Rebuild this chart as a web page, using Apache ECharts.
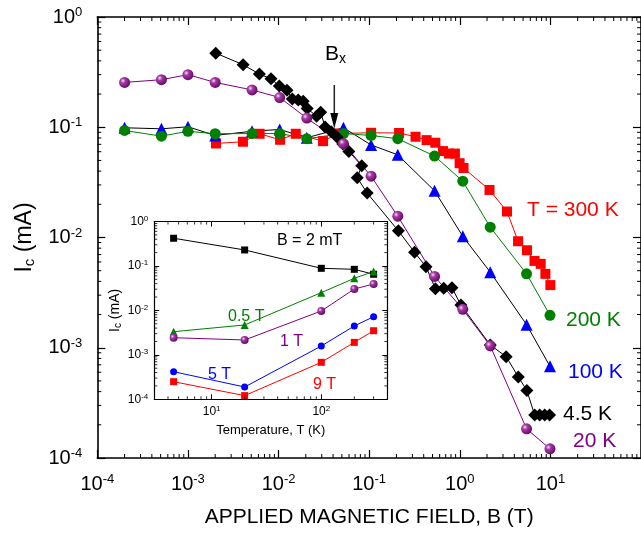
<!DOCTYPE html>
<html><head><meta charset="utf-8">
<script src="https://cdn.jsdelivr.net/npm/echarts@6/dist/echarts.min.js"></script>
<style>html,body{margin:0;padding:0;background:#fff}#c{width:641px;height:533px}</style>
</head><body><div id="c"></div>
<script>
// ---------- main plot data: B (T) vs Ic (mA) ----------
const B_std = [2e-4, 5.1e-4, 1e-3, 2e-3, 5.1e-3, 0.0103, 0.0205, 0.052, 0.105, 0.207, 0.527, 1.08, 2.17, 5.46, 9.9];
const I_20K  = [0.255, 0.27, 0.30, 0.255, 0.218, 0.186, 0.121, 0.071, 0.036, 0.0156, 0.00444, 0.00223, 0.00104, 1.84e-4, 1.21e-4];
const I_200K = [0.0935, 0.083, 0.092, 0.0873, 0.0877, 0.0877, 0.0787, 0.0877, 0.0843, 0.0787, 0.0548, 0.0324, 0.0124, 0.00468, 0.00197];
const I_100K = [0.0989, 0.0968, 0.101, 0.0843, 0.092, 0.0955, 0.0803, 0.0989, 0.0691, 0.0562, 0.0265, 0.01025, 0.00485, 0.00162, 6.78e-4];
const B_300K = [2.04e-3, 4.05e-3, 6.18e-3, 0.0104, 0.0155, 0.031, 0.0452, 0.105, 0.214, 0.325, 0.431, 0.538, 0.653, 0.76, 0.884, 0.996, 1.10, 2.13, 3.32, 4.40, 5.52, 6.68, 7.82, 8.81, 10.0];
const I_300K = [0.0713, 0.0739, 0.0873, 0.077, 0.0873, 0.0748, 0.0878, 0.0891, 0.0887, 0.082, 0.0764, 0.0724, 0.0608, 0.0577, 0.0577, 0.0472, 0.0427, 0.027, 0.0172, 0.00925, 0.00766, 0.00613, 0.00577, 0.00468, 0.0037];
const B_4K5 = [2.03e-3, 4.07e-3, 6.15e-3, 8.26e-3, 0.0102, 0.0124, 0.0142, 0.0165, 0.0187, 0.0207, 0.0263, 0.0292, 0.0326, 0.0382, 0.0441, 0.0513, 0.0597, 0.0828, 0.0739, 0.0951, 0.21, 0.317, 0.424, 0.538, 0.665, 0.82, 1.03, 2.17, 3.25, 4.43, 5.5, 6.71, 7.62, 8.65, 9.8];
const I_4K5 = [0.47, 0.369, 0.304, 0.275, 0.237, 0.217, 0.18, 0.177, 0.172, 0.148, 0.126, 0.137, 0.1005, 0.0912, 0.0817, 0.0706, 0.0604, 0.0447, 0.0348, 0.0253, 0.0115, 0.00734, 0.00543, 0.00343, 0.00346, 0.0035, 0.00244, 0.00106, 8.3e-4, 5.44e-4, 4.09e-4, 2.46e-4, 2.46e-4, 2.46e-4, 2.46e-4];

// ---------- inset data: T (K) vs Ic (mA) ----------
const T_inset = [4.5, 20, 100, 200, 300];
const I_2mT  = [0.42, 0.229, 0.0885, 0.084, 0.065];
const I_0p5T = [0.00332, 0.0047, 0.0251, 0.0527, 0.075];
const I_1T   = [0.00243, 0.00216, 0.00969, 0.0303, 0.0393];
const I_5T   = [4.18e-4, 1.89e-4, 1.58e-3, 4.46e-3, 7.22e-3];
const I_9T   = [2.49e-4, 1.21e-4, 6.79e-4, 1.91e-3, 3.49e-3];

// axis ranges (decades)
const mainX = [-4, 2], mainY = [-4, 0];
const insX = [Math.log10(3), Math.log10(400)], insY = [-4, 0];

const FONT = '"Liberation Sans", Arial, sans-serif';
const lg = Math.log10;
const pts = (xs, ys) => xs.map((x, i) => [lg(x), lg(ys[i])]);

function supLabel(size, sup, margin) {
  return {
    margin: margin,
    formatter: v => '{b|10}{s|' + Math.round(v) + '}',
    rich: {
      b: { fontSize: size, fontFamily: FONT, color: '#000', lineHeight: size + 2 },
      s: { fontSize: sup, fontFamily: FONT, color: '#000', verticalAlign: 'top', lineHeight: sup }
    }
  };
}

function minorVals(n0, n1) {
  const out = [];
  for (let n = n0; n < n1; n++) for (let k = 2; k <= 9; k++) out.push(lg(k) + n);
  return out;
}

function minorSeries(xi, yi, xr, yr, xv, yv, len, w) {
  const data = xv.map(v => [v, yr[0], 0]).concat(yv.map(v => [xr[0], v, 1]));
  const ln = (x1, y1, x2, y2) => ({ type: 'line', shape: { x1, y1, x2, y2 }, style: { stroke: '#000', lineWidth: w } });
  return {
    type: 'custom', xAxisIndex: xi, yAxisIndex: yi, silent: true, clip: false, z: 5,
    encode: { x: 0, y: 1 }, data: data,
    renderItem: (p, api) => {
      const k = api.value(2);
      if (k === 0) {
        const v = api.value(0);
        const a = api.coord([v, yr[0]]), b = api.coord([v, yr[1]]);
        return { type: 'group', children: [ln(a[0], a[1], a[0], a[1] - len), ln(b[0], b[1], b[0], b[1] + len)] };
      } else {
        const v = api.value(1);
        const a = api.coord([xr[0], v]), b = api.coord([xr[1], v]);
        return { type: 'group', children: [ln(a[0], a[1], a[0] + len, a[1]), ln(b[0], b[1], b[0] - len, b[1])] };
      }
    }
  };
}

const sphere = {
  type: 'radial', x: 0.35, y: 0.35, r: 0.75,
  colorStops: [{ offset: 0, color: '#f6dcf6' }, { offset: 0.3, color: '#a53aa5' }, { offset: 1, color: '#5c005c' }]
};

function line(name, data, symbol, size, color, lineColor, xi, yi) {
  return {
    name, type: 'line', data, symbol, symbolSize: size, xAxisIndex: xi, yAxisIndex: yi,
    itemStyle: { color: color }, lineStyle: { color: lineColor, width: 1 },
    emphasis: { disabled: true }, animation: false, z: 3
  };
}

const axLine = w => ({ show: true, onZero: false, lineStyle: { color: '#000', width: w } });

const option = {
  animation: false,
  backgroundColor: '#fff',
  textStyle: { fontFamily: FONT },
  grid: [
    { left: 97.3, top: 17, width: 548.4, height: 443 },
    { left: 154.3, top: 221.5, width: 233, height: 177.8, show: true, backgroundColor: '#fff', borderWidth: 0 }
  ],
  xAxis: [
    { gridIndex: 0, type: 'value', position: 'bottom', min: mainX[0], max: mainX[1], interval: 1,
      axisLine: axLine(1.6), axisTick: { inside: true, length: 8, lineStyle: { color: '#000', width: 1.2 } },
      axisLabel: Object.assign(supLabel(20, 13, 15), { showMaxLabel: false }), splitLine: { show: false },
      name: 'APPLIED MAGNETIC FIELD, B (T)', nameLocation: 'middle', nameGap: 49,
      nameTextStyle: { fontSize: 21, fontFamily: FONT, color: '#000' } },
    { gridIndex: 0, type: 'value', position: 'top', min: mainX[0], max: mainX[1], interval: 1,
      axisLine: axLine(1.6), axisTick: { inside: true, length: 8, lineStyle: { color: '#000', width: 1.2 } },
      axisLabel: { show: false }, splitLine: { show: false } },
    { gridIndex: 1, type: 'value', position: 'bottom', min: insX[0], max: insX[1],
      axisLine: axLine(1.2), axisTick: { inside: true, length: 5, customValues: [1, 2], lineStyle: { color: '#000', width: 1 } },
      axisLabel: Object.assign(supLabel(12, 8, 5), { customValues: [1, 2] }), splitLine: { show: false },
      name: 'Temperature, T (K)', nameLocation: 'middle', nameGap: 25,
      nameTextStyle: { fontSize: 13, fontFamily: FONT, color: '#000' } },
    { gridIndex: 1, type: 'value', position: 'top', min: insX[0], max: insX[1],
      axisLine: axLine(1.2), axisTick: { inside: true, length: 5, customValues: [1, 2], lineStyle: { color: '#000', width: 1 } },
      axisLabel: { show: false }, splitLine: { show: false } }
  ],
  yAxis: [
    { gridIndex: 0, type: 'value', position: 'left', min: mainY[0], max: mainY[1], interval: 1,
      axisLine: axLine(1.6), axisTick: { inside: true, length: 8, lineStyle: { color: '#000', width: 1.2 } },
      axisLabel: supLabel(20, 13, 15), splitLine: { show: false },
      name: '{a|I}{c|c}{a| (mA)}', nameLocation: 'middle', nameGap: 56,
      nameTextStyle: { fontFamily: FONT, color: '#000',
        rich: { a: { fontSize: 23, fontFamily: FONT, color: '#000', lineHeight: 26 },
                c: { fontSize: 15, fontFamily: FONT, color: '#000', verticalAlign: 'bottom', lineHeight: 15 } } } },
    { gridIndex: 0, type: 'value', position: 'right', min: mainY[0], max: mainY[1], interval: 1,
      axisLine: axLine(1.6), axisTick: { inside: true, length: 8, lineStyle: { color: '#000', width: 1.2 } },
      axisLabel: { show: false }, splitLine: { show: false } },
    { gridIndex: 1, type: 'value', position: 'left', min: insY[0], max: insY[1], interval: 1,
      axisLine: axLine(1.2), axisTick: { inside: true, length: 5, lineStyle: { color: '#000', width: 1 } },
      axisLabel: supLabel(12, 8, 6), splitLine: { show: false },
      name: '{a|I}{c|c}{a| (mA)}', nameLocation: 'middle', nameGap: 31,
      nameTextStyle: { fontFamily: FONT, color: '#000',
        rich: { a: { fontSize: 14, fontFamily: FONT, color: '#000', lineHeight: 16 },
                c: { fontSize: 10, fontFamily: FONT, color: '#000', verticalAlign: 'bottom', lineHeight: 10 } } } },
    { gridIndex: 1, type: 'value', position: 'right', min: insY[0], max: insY[1], interval: 1,
      axisLine: axLine(1.2), axisTick: { inside: true, length: 5, lineStyle: { color: '#000', width: 1 } },
      axisLabel: { show: false }, splitLine: { show: false } }
  ],
  series: [
    line('T = 300 K', pts(B_300K, I_300K), 'rect', 10, '#ff0000', '#ff0000', 0, 0),
    line('100 K', pts(B_std, I_100K), 'triangle', 12, '#0000ff', '#000000', 0, 0),
    line('200 K', pts(B_std, I_200K), 'circle', 11, '#008000', '#008000', 0, 0),
    line('4.5 K', pts(B_4K5, I_4K5), 'diamond', 13, '#000000', '#000000', 0, 0),
    line('20 K', pts(B_std, I_20K), 'circle', 11, sphere, '#800080', 0, 0),
    line('B = 2 mT', pts(T_inset, I_2mT), 'rect', 7, '#000000', '#000000', 2, 2),
    line('0.5 T', pts(T_inset, I_0p5T), 'triangle', 8, '#008000', '#008000', 2, 2),
    line('1 T', pts(T_inset, I_1T), 'circle', 8, sphere, '#800080', 2, 2),
    line('5 T', pts(T_inset, I_5T), 'circle', 7, '#0000ff', '#0000ff', 2, 2),
    line('9 T', pts(T_inset, I_9T), 'rect', 7, '#ff0000', '#ff0000', 2, 2),
    minorSeries(0, 0, mainX, mainY, minorVals(-4, 2), minorVals(-4, 0), 4, 1),
    minorSeries(2, 2, insX, insY,
      [4, 5, 6, 7, 8, 9].map(lg).concat(minorVals(1, 2)).concat([lg(200), lg(300)]),
      minorVals(-4, 0), 3, 0.8)
  ],
  graphic: [
    { type: 'text', x: 527, y: 210, z: 100, style: { text: 'T = 300 K', fill: '#ff0000', font: '21px ' + FONT, verticalAlign: 'middle' } },
    { type: 'text', x: 566, y: 320, z: 100, style: { text: '200 K', fill: '#008000', font: '21px ' + FONT, verticalAlign: 'middle' } },
    { type: 'text', x: 568, y: 372, z: 100, style: { text: '100 K', fill: '#0000ff', font: '21px ' + FONT, verticalAlign: 'middle' } },
    { type: 'text', x: 563, y: 414, z: 100, style: { text: '4.5 K', fill: '#000000', font: '21px ' + FONT, verticalAlign: 'middle' } },
    { type: 'text', x: 573, y: 441, z: 100, style: { text: '20 K', fill: '#800080', font: '21px ' + FONT, verticalAlign: 'middle' } },
    { type: 'text', x: 325, y: 54, z: 100, style: { text: '{a|B}{b|x}', verticalAlign: 'middle',
        rich: { a: { fontSize: 21, fontFamily: FONT, fill: '#000', lineHeight: 24 }, b: { fontSize: 14, fontFamily: FONT, fill: '#000', verticalAlign: 'bottom', lineHeight: 14 } } } },
    { type: 'line', z: 100, shape: { x1: 334.3, y1: 85, x2: 334.3, y2: 116 }, style: { stroke: '#222', lineWidth: 1.5 } },
    { type: 'polygon', z: 100, shape: { points: [[330.3, 113], [338.3, 113], [334.3, 128.5]] }, style: { fill: '#000' } },
    { type: 'text', x: 277, y: 241, z: 100, style: { text: 'B = 2 mT', fill: '#000', font: '16px ' + FONT, verticalAlign: 'middle' } },
    { type: 'text', x: 228, y: 317, z: 100, style: { text: '0.5 T', fill: '#008000', font: '16px ' + FONT, verticalAlign: 'middle' } },
    { type: 'text', x: 280, y: 342, z: 100, style: { text: '1 T', fill: '#800080', font: '16px ' + FONT, verticalAlign: 'middle' } },
    { type: 'text', x: 208, y: 375, z: 100, style: { text: '5 T', fill: '#0000ff', font: '16px ' + FONT, verticalAlign: 'middle' } },
    { type: 'text', x: 313, y: 385, z: 100, style: { text: '9 T', fill: '#ff0000', font: '16px ' + FONT, verticalAlign: 'middle' } }
  ]
};

const chart = echarts.init(document.getElementById('c'), null, { renderer: 'canvas' });
chart.setOption(option);
</script>
</body></html>
